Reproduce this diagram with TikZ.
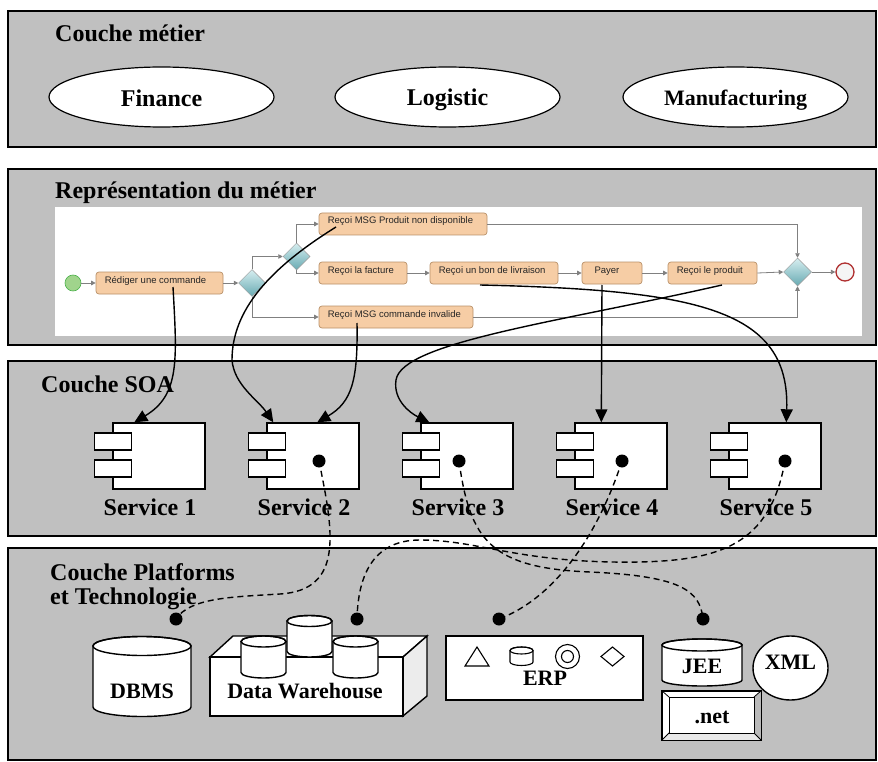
\documentclass[tikz,border=0pt]{standalone}
\usepackage{fontspec}
\setmainfont{Liberation Serif}
\newfontfamily\taskfont{Liberation Sans}
\usetikzlibrary{arrows.meta,shapes.geometric}

\definecolor{layergray}{RGB}{192,192,192}
\definecolor{taskfill}{RGB}{246,205,165}
\definecolor{taskline}{RGB}{185,145,105}
\definecolor{flowgray}{RGB}{128,128,128}
\definecolor{gwlight}{RGB}{214,238,240}
\definecolor{gwdark}{RGB}{104,170,178}
\definecolor{startgreen}{RGB}{160,212,140}
\definecolor{endred}{RGB}{176,48,48}

% cylinder: [style] left x, top-centre y, width, body height, y radius
\newcommand{\drawcyl}[6][line width=1.4pt]{%
  \filldraw[fill=white,#1] (#2,#3) -- (#2,{#3+#5})
    arc[start angle=180,end angle=0,x radius={#4/2},y radius=#6]
    -- ({#2+#4},#3)
    arc[start angle=0,end angle=-180,x radius={#4/2},y radius=#6] -- cycle;
  \draw[#1] ({#2+#4/2},#3) ellipse[x radius={#4/2},y radius=#6];}

\tikzset{
  layer/.style={draw=black, line width=1.8pt, fill=layergray},
  head/.style={font=\fontsize{24}{28}\selectfont\bfseries, inner sep=0pt},
  big/.style={font=\fontsize{24}{28}\selectfont\bfseries, inner sep=0pt},
  lbl/.style={font=\fontsize{22}{26}\selectfont\bfseries, inner sep=0pt},
  task/.style={draw=taskline, fill=taskfill, rounded corners=3pt, line width=0.7pt,
    minimum height=22pt, inner sep=0pt},
  tasktext/.style={font=\taskfont\fontsize{9.5}{10}\selectfont, inner sep=0pt, text=black!85},
  gateway/.style={diamond, draw=flowgray!80, top color=gwlight, bottom color=gwdark,
    minimum width=27pt, minimum height=27pt, inner sep=0pt, line width=0.5pt},
  flow/.style={draw=flowgray, line width=0.8pt, -{Triangle[length=4.5pt,width=4.5pt]}},
  conn/.style={draw=black, line width=1.4pt, -{Triangle[length=13pt,width=12pt]}},
  link/.style={draw=black, line width=1.4pt, dash pattern=on 6pt off 4pt},
  comp/.style={draw=black, line width=1.4pt, fill=white, minimum width=92pt,
    minimum height=66pt, inner sep=0pt},
  port/.style={draw=black, line width=1.4pt, fill=white, minimum width=37pt,
    minimum height=17pt, inner sep=0pt},
  dot/.style={circle, fill=black, minimum size=13pt, inner sep=0pt},
  areabox/.style={ellipse, draw=black, line width=1.2pt, fill=white,
    minimum width=225pt, minimum height=60pt, inner sep=0pt},
}

\begin{document}
\begin{tikzpicture}[x=1pt,y=-1pt]
\useasboundingbox (0,0) rectangle (878,762);

% ---- the four layers
\path[layer] (8,11) rectangle (876,147);
\path[layer] (8,169) rectangle (876,345);
\path[layer] (8,361) rectangle (876,536);
\path[layer] (8,548) rectangle (876,760);

\node[head, anchor=base west] (h1) at (55,42) {Couche métier};
\node[head, anchor=base west] (h2) at (55,199) {Représentation du métier};
\node[head, anchor=base west] (h3) at (41,392) {Couche SOA};
\node[head, anchor=base west] (h4a) at (50,580) {Couche Platforms};
\node[head, anchor=base west] (h4b) at (50,604) {et Technologie};

% ---- business domains
\node[areabox] (fin) at (161.5,97) {};
\node[big, anchor=base] (finl) at (161.5,107) {Finance};
\node[areabox] (log) at (447.5,97) {};
\node[big, anchor=base] (logl) at (447.5,106) {Logistic};
\node[areabox] (man) at (735.5,97) {};
\node[lbl, anchor=base] (manl) at (735.5,106) {Manufacturing};

% ---- business process
\fill[white] (55,207) rectangle (862,336);

\node[circle, draw=green!40!gray, fill=startgreen, minimum size=16pt, inner sep=0pt, line width=0.6pt] (st) at (73,283) {};
\node[task, minimum width=127pt] (t1) at (159.5,283) {};
\node[gateway] (gw1) at (252,283) {};
\node[gateway] (gw2) at (296.5,256.5) {};
\node[task, minimum width=168pt] (msg) at (403,224) {};
\node[task, minimum width=88pt] (fac) at (363,273) {};
\node[task, minimum width=128pt] (bon) at (494,273) {};
\node[task, minimum width=60pt] (pay) at (612,273) {};
\node[task, minimum width=89pt] (prod) at (712.5,273) {};
\node[task, minimum width=154pt] (inv) at (396,317) {};
\node[gateway, minimum width=28pt, minimum height=28pt] (gw3) at (797.5,272) {};
\node[circle, draw=endred, fill=gray!8, line width=1.3pt, minimum size=18pt, inner sep=0pt] (en) at (845,272) {};

\node[tasktext, anchor=base west] (t1l) at ([xshift=9pt]t1.west) {Rédiger une commande};
\node[tasktext, anchor=base west] (msgl) at ([xshift=9pt]msg.west) {Reçoi MSG Produit non disponible};
\node[tasktext, anchor=base west] (facl) at ([xshift=9pt]fac.west) {Reçoi la facture};
\node[tasktext, anchor=base west] (bonl) at ([xshift=9pt]bon.west) {Reçoi un bon de livraison};
\node[tasktext, anchor=base] (payl) at ([xshift=-5pt]pay.center) {Payer};
\node[tasktext, anchor=base west] (prodl) at ([xshift=9pt]prod.west) {Reçoi le produit};
\node[tasktext, anchor=base west] (invl) at ([xshift=9pt]inv.west) {Reçoi MSG commande invalide};

\draw[flow] (st.east) -- (st.east -| t1.west);
\draw[flow] (t1.east) -- (gw1.west);
\draw[flow] (gw1.north) |- (gw2.west);
\draw[flow] (gw1.south) |- (inv.west);
\draw[flow] (gw2.north) |- (msg.west);
\draw[flow] (gw2.south) |- (fac.west);
\draw[flow] (fac.east) -- (bon.west);
\draw[flow] (bon.east) -- (pay.west);
\draw[flow] (pay.east) -- (prod.west);
\draw[flow] (prod.east) -- (gw3.west);
\draw[flow] (gw3.east) -- (en.west);
\draw[flow] (msg.east) -| (gw3.north);
\draw[flow] (inv.east) -| (gw3.south);

% ---- services
\foreach \i/\x in {1/113,2/267,3/421,4/575,5/729}{
  \node[comp] (s\i) at ({\x+46},456) {};
  \node[port] (s\i-pa) at (\x,441.5) {};
  \node[port] (s\i-pb) at (\x,468.5) {};
  \node[big, anchor=base] (s\i-l) at ({\x+37},515) {Service \i};
}

% ---- platforms and technologies
\drawcyl{93}{646}{98}{61}{9.5}
\node[lbl, anchor=base] (dbms) at (142,698) {DBMS};

% data warehouse block
\filldraw[fill=white, line width=1.4pt] (210,657) -- (233,636) -- (427,636) -- (403,657) -- cycle;
\filldraw[fill=gray!15, line width=1.4pt] (403,657) -- (427,636) -- (427,696) -- (403,716) -- cycle;
\filldraw[fill=white, line width=1.4pt] (210,657) rectangle (403,716);
\drawcyl{287}{621}{45}{30.5}{5.5}
\drawcyl{241}{641.5}{45}{31}{5.5}
\drawcyl{333}{641.5}{45}{31}{5.5}
\node[lbl, anchor=base] (dw) at (305,698) {Data Warehouse};

% ERP
\node[draw=black, line width=1.4pt, fill=white, minimum width=197pt, minimum height=64pt, inner sep=0pt] (erp) at (544.5,668) {};
\draw[line width=1.1pt] (465,666) -- (477,647) -- (489,666) -- cycle;
\drawcyl[line width=1.1pt]{510}{650.5}{23}{11.5}{3.5}
\draw[line width=1.1pt] (567.5,656.5) circle[radius=12];
\draw[line width=1.1pt] (567.5,656.5) circle[radius=6];
\draw[line width=1.1pt] (601,656.5) -- (612.5,647) -- (624,656.5) -- (612.5,666) -- cycle;
\node[lbl, anchor=base] (erpl) at (545,685) {ERP};

% JEE, XML, .net
\drawcyl{662}{645}{80}{35}{6}
\node[lbl, anchor=base] (jee) at (702,673) {JEE};
\node[ellipse, draw=black, line width=1.4pt, fill=white, minimum width=75pt, minimum height=64pt, inner sep=0pt] (xml) at (790.5,668) {};
\node[lbl, anchor=base] (xmll) at (790.5,669) {XML};
\node[draw=black, line width=1.4pt, fill=white, minimum width=99pt, minimum height=49pt, inner sep=0pt] (net) at (711.5,715.5) {};
\fill[gray!55] (754,697) -- (761,691) -- (761,740) -- (754,733) -- cycle;
\fill[gray!18] (669,733) -- (754,733) -- (761,740) -- (662,740) -- cycle;
\draw[line width=1pt] (669,697) rectangle (754,733);
\draw[line width=0.8pt] (net.north west) -- (669,697) (net.north east) -- (754,697)
  (net.south west) -- (669,733) (net.south east) -- (754,733);
\draw[line width=1.4pt] (net.north west) rectangle (net.south east);
\node[lbl, anchor=base] (netl) at (712,723) {.net};

% ---- links from services to platforms
\draw[link] (319,461) .. controls (333,530) and (345,590) .. (280,594)
  .. controls (230,597) and (190,598) .. (176,619);
\draw[link] (459,461) .. controls (470,540) and (490,568) .. (590,572)
  .. controls (680,576) and (700,590) .. (703,619);
\draw[link] (622,461) .. controls (598,535) and (555,598) .. (499,619);
\draw[link] (785,461) .. controls (770,545) and (720,560) .. (640,562)
  .. controls (520,564) and (480,540) .. (420,540)
  .. controls (370,540) and (358,580) .. (357,619);

\node[dot] (sd2) at (319,461) {};
\node[dot] (sd3) at (459,461) {};
\node[dot] (sd4) at (622,461) {};
\node[dot] (sd5) at (785,461) {};
\node[dot] (pd1) at (176,619) {};
\node[dot] (pd2) at (357,619) {};
\node[dot] (pd3) at (499,619) {};
\node[dot] (pd4) at (703,619) {};

% ---- process steps bound to services
\coordinate (r1) at (173,287);
\coordinate (r2) at (336,227);
\coordinate (r3) at (357,323);
\coordinate (r4) at (722,285);
\coordinate (r5) at (602,285);
\coordinate (r6) at (480,285);

\draw[conn] (r1) .. controls (177,360) and (180,395) .. ([xshift=22pt]s1.north west);
\draw[conn] (r2) .. controls (270,268) and (232,310) .. (232,360)
  .. controls (234,385) and (258,400) .. ([xshift=7pt]s2.north west);
\draw[conn] (r3) .. controls (358,380) and (352,402) .. ([xshift=51pt]s2.north west);
\draw[conn] (r4) .. controls (560,322) and (402,342) .. (396,380)
  .. controls (393,400) and (410,413) .. ([xshift=9pt]s3.north west);
\draw[conn] (r5) -- ([xshift=27pt]s4.north west);
\draw[conn] (r6) .. controls (700,290) and (790,310) .. ([xshift=58pt]s5.north west);
\end{tikzpicture}
\end{document}
